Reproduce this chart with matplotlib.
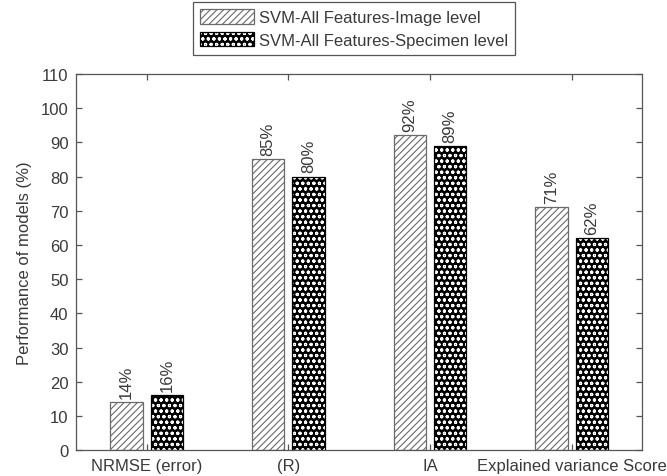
"""Performance des modèles SVM (toutes variables) : niveau image vs niveau spécimen."""

import matplotlib

matplotlib.use("Agg")
import matplotlib.pyplot as plt
import numpy as np
from matplotlib.patches import Patch

plt.rcParams["font.family"] = ["Liberation Sans", "DejaVu Sans"]
plt.rcParams["font.size"] = 12
plt.rcParams["hatch.linewidth"] = 0.8

categories = ["NRMSE (error)", "(R)", "IA", "Explained variance Score"]
image_level = [14, 85, 92, 71]
specimen_level = [16, 80, 89, 62]
series_labels = ["SVM-All Features-Image level", "SVM-All Features-Specimen level"]
yticks = list(range(0, 111, 10))

TXT = "#3a3a3a"
EDGE = "#555555"
HATCH_GREY = "#6a6a6a"

fig = plt.figure(figsize=(6.67, 4.77), dpi=100)
ax = fig.add_axes([0.114, 0.054, 0.849, 0.789])

x = np.arange(1, len(categories) + 1)
w = 0.229
off = 0.143

b1 = ax.bar(x - off, image_level, w, facecolor="white", edgecolor=HATCH_GREY,
            hatch="/////", linewidth=0.9, zorder=2)
# points blancs sur fond noir : hachure blanche puis contour noir par-dessus
b2 = ax.bar(x + off, specimen_level, w, facecolor="black", edgecolor="white",
            hatch="ooo", linewidth=0, zorder=2)
ax.bar(x + off, specimen_level, w, fill=False, edgecolor="black", linewidth=0.9, zorder=3)

for bars, vals in ((b1, image_level), (b2, specimen_level)):
    for rect, v in zip(bars, vals):
        ax.annotate(f"{v}%", (rect.get_x() + rect.get_width() / 2, v),
                    xytext=(0, 3), textcoords="offset points", rotation=90,
                    ha="center", va="bottom", color=TXT, fontsize=12)

ax.set_xlim(0.5, 4.5)
ax.set_ylim(0, 110)
ax.set_yticks(yticks)
ax.set_xticks(x)
ax.set_xticklabels(categories)
ax.tick_params(direction="in", top=True, right=True, length=4, width=0.9,
               color=EDGE, labelcolor=TXT, labelsize=12, pad=5.5)
for s in ax.spines.values():
    s.set_color(EDGE)
    s.set_linewidth(0.9)
ax.set_ylabel("Performance of models (%)", color=TXT, fontsize=12, labelpad=6)

h1 = Patch(facecolor="white", edgecolor=HATCH_GREY, hatch="/////", linewidth=0.9)
h2a = Patch(facecolor="black", edgecolor="white", hatch="ooo", linewidth=0)
h2b = Patch(fill=False, edgecolor="black", linewidth=0.9)
leg = fig.legend([h1, (h2a, h2b)], series_labels, loc="upper left",
                 bbox_to_anchor=(0.289, 0.994), fancybox=False, framealpha=1,
                 edgecolor=EDGE, handlelength=3.25, handleheight=1.0,
                 handletextpad=0.3, labelspacing=0.38, borderpad=0.43,
                 borderaxespad=0, fontsize=12)
for t in leg.get_texts():
    t.set_color(TXT)
leg.get_frame().set_linewidth(0.9)

fig.savefig("out.png", dpi=100)
